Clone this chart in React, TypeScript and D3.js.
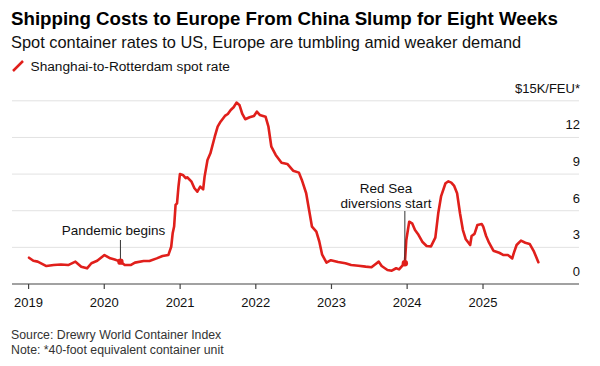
// App.tsx

import React, { useEffect, useRef } from "react";
import * as d3 from "d3";

// weekly Drewry WCI readings, Shanghai-Rotterdam, thousand $ per FEU
const dates = [
  "2019-01-03", "2019-01-24", "2019-02-14", "2019-03-28", "2019-05-02", "2019-06-06",
  "2019-07-11", "2019-08-15", "2019-09-12", "2019-10-10", "2019-10-31", "2019-11-28",
  "2020-01-02", "2020-01-30", "2020-02-20", "2020-03-19", "2020-04-09", "2020-05-07",
  "2020-05-28", "2020-07-09", "2020-08-06", "2020-09-10", "2020-10-08", "2020-11-05",
  "2020-11-19", "2020-11-26", "2020-12-03", "2020-12-10", "2020-12-17", "2020-12-24",
  "2020-12-31", "2021-01-14", "2021-01-28", "2021-02-04", "2021-02-25", "2021-03-11",
  "2021-03-25", "2021-04-08", "2021-04-22", "2021-04-29", "2021-05-13", "2021-05-27",
  "2021-06-17", "2021-07-01", "2021-07-15", "2021-08-05", "2021-08-19", "2021-09-02",
  "2021-09-16", "2021-09-30", "2021-10-14", "2021-10-28", "2021-11-11", "2021-12-02",
  "2021-12-23", "2022-01-06", "2022-01-20", "2022-02-17", "2022-03-03", "2022-03-17",
  "2022-04-07", "2022-05-05", "2022-06-02", "2022-06-30", "2022-07-28", "2022-08-11",
  "2022-09-01", "2022-09-15", "2022-09-29", "2022-10-20", "2022-11-03", "2022-11-17",
  "2022-12-08", "2022-12-29", "2023-02-02", "2023-03-09", "2023-04-06", "2023-05-11",
  "2023-06-15", "2023-07-13", "2023-07-27", "2023-08-17", "2023-08-31", "2023-09-28",
  "2023-10-19", "2023-11-09", "2023-11-23", "2023-12-07", "2023-12-21", "2023-12-28",
  "2024-01-11", "2024-01-25", "2024-02-08", "2024-02-22", "2024-03-14", "2024-04-04",
  "2024-04-25", "2024-05-16", "2024-05-30", "2024-06-13", "2024-07-04", "2024-07-18",
  "2024-08-01", "2024-08-15", "2024-08-29", "2024-09-12", "2024-09-26", "2024-10-10",
  "2024-10-31", "2024-11-07", "2024-11-21", "2024-12-05", "2024-12-26", "2025-01-02",
  "2025-01-16", "2025-01-30", "2025-02-20", "2025-03-20", "2025-04-10", "2025-05-01",
  "2025-05-22", "2025-05-29", "2025-06-12", "2025-07-03", "2025-07-24", "2025-08-14",
  "2025-09-04", "2025-09-25",
];

const rates = [
  2.15, 1.9, 1.83, 1.47, 1.55, 1.6,
  1.55, 1.83, 1.42, 1.28, 1.7, 1.9,
  2.37, 2.1, 2.0, 1.83, 1.55, 1.55,
  1.75, 1.88, 1.88, 2.1, 2.29, 2.37,
  3.05, 4.15, 4.7, 6.47, 6.6, 7.97,
  9.0, 8.93, 8.66, 8.74, 8.38, 7.84,
  7.56, 7.97, 7.75, 8.79, 10.16, 10.7,
  12.06, 12.88, 13.29, 13.76, 13.92, 14.25,
  14.47, 14.85, 14.66, 13.92, 13.49, 13.65,
  13.76, 14.11, 13.84, 13.7, 12.88, 11.24,
  10.57, 9.93, 9.83, 9.28, 9.12, 8.52,
  7.43, 6.06, 4.69, 4.28, 3.5, 2.4,
  1.75, 1.95, 1.8, 1.7, 1.56, 1.5,
  1.42, 1.37, 1.56, 1.83, 1.47, 1.15,
  1.09, 1.29, 1.2, 1.47, 1.7, 3.6,
  5.1, 4.97, 4.42, 4.1, 3.46, 3.11,
  3.08, 3.8, 5.79, 7.2, 8.25, 8.4,
  8.3, 8.03, 7.43, 5.79, 4.42, 3.66,
  3.19, 3.93, 4.1, 4.83, 4.91, 4.69,
  3.93, 3.38, 2.73, 2.56, 2.37, 2.37,
  2.1, 2.51, 3.19, 3.55, 3.38, 3.28,
  2.65, 1.78,
];

const yTicks = [0, 3, 6, 9, 12, 15];
const yearTicks = [2019, 2020, 2021, 2022, 2023, 2024, 2025];

const noteDates = ["2020-03-19", "2023-12-21"];
const noteLines = [["Pandemic begins"], ["Red Sea", "diversions start"]];

const RED = "#e01f1b";
const FONT = "'Liberation Sans', Arial, Helvetica, sans-serif";

const App: React.FC = () => {
  const ref = useRef<SVGSVGElement>(null);

  useEffect(() => {
    const svg = d3.select(ref.current);
    svg.selectAll("*").remove();

    const width = 600;
    const height = 366;
    const parse = d3.timeParse("%Y-%m-%d");
    const data = dates.map((d, i) => ({ date: parse(d) as Date, value: rates[i] }));

    const x = d3
      .scaleTime()
      .domain([new Date(2018, 9, 13), new Date(2026, 3, 9)])
      .range([12, 579]);
    const y = d3.scaleLinear().domain([0, 15]).range([284, 100.8]);

    svg.attr("width", width).attr("height", height).style("font-family", FONT);

    // header
    svg
      .append("text")
      .attr("x", 11)
      .attr("y", 25)
      .attr("font-size", 18.7)
      .attr("font-weight", "bold")
      .attr("fill", "#000")
      .text("Shipping Costs to Europe From China Slump for Eight Weeks");

    svg
      .append("text")
      .attr("x", 11)
      .attr("y", 47.5)
      .attr("font-size", 16.4)
      .attr("fill", "#111")
      .text("Spot container rates to US, Europe are tumbling amid weaker demand");

    svg
      .append("line")
      .attr("x1", 13)
      .attr("y1", 71)
      .attr("x2", 23)
      .attr("y2", 61)
      .attr("stroke", RED)
      .attr("stroke-width", 2.5);

    svg
      .append("text")
      .attr("x", 30.5)
      .attr("y", 71)
      .attr("font-size", 13.7)
      .attr("fill", "#111")
      .text("Shanghai-to-Rotterdam spot rate");

    // gridlines + right labels
    const grid = svg.append("g");
    grid
      .selectAll("line")
      .data(yTicks.filter((t) => t > 0))
      .enter()
      .append("line")
      .attr("x1", 12)
      .attr("x2", 579)
      .attr("y1", (d) => y(d))
      .attr("y2", (d) => y(d))
      .attr("stroke", "#e2e2e2")
      .attr("stroke-width", 1);

    grid
      .selectAll("text")
      .data(yTicks)
      .enter()
      .append("text")
      .attr("x", 580)
      .attr("y", (d) => y(d) - 8)
      .attr("text-anchor", "end")
      .attr("font-size", 13)
      .attr("fill", "#111")
      .text((d) => (d === 15 ? "$15K/FEU*" : String(d)));

    // x axis
    const xAxis = svg.append("g");
    xAxis
      .append("line")
      .attr("x1", 12)
      .attr("x2", 579)
      .attr("y1", y(0))
      .attr("y2", y(0))
      .attr("stroke", "#444")
      .attr("stroke-width", 1.2);

    const yearDates = yearTicks.map((yr) => new Date(yr, 0, 1));
    xAxis
      .selectAll(".tick")
      .data(yearDates)
      .enter()
      .append("line")
      .attr("class", "tick")
      .attr("x1", (d) => x(d))
      .attr("x2", (d) => x(d))
      .attr("y1", y(0))
      .attr("y2", y(0) + 5)
      .attr("stroke", "#444")
      .attr("stroke-width", 1.2);

    xAxis
      .selectAll("text")
      .data(yearDates)
      .enter()
      .append("text")
      .attr("x", (d) => x(d))
      .attr("y", 307)
      .attr("text-anchor", "middle")
      .attr("font-size", 13)
      .attr("fill", "#111")
      .text((d) => d3.timeFormat("%Y")(d));

    // line
    const line = d3
      .line<{ date: Date; value: number }>()
      .x((d) => x(d.date))
      .y((d) => y(d.value))
      .curve(d3.curveLinear);

    svg
      .append("path")
      .datum(data)
      .attr("fill", "none")
      .attr("stroke", RED)
      .attr("stroke-width", 2.6)
      .attr("stroke-linejoin", "round")
      .attr("stroke-linecap", "round")
      .attr("d", line);

    // annotations
    const topY = [240, 211];
    const baseY = [235, 193];
    const textX = [113.5, 386];
    noteDates.forEach((nd, i) => {
      const pt = data.find((d) => d3.timeFormat("%Y-%m-%d")(d.date) === nd)!;
      const px = x(pt.date);
      const py = y(pt.value);
      svg
        .append("line")
        .attr("x1", px)
        .attr("x2", px)
        .attr("y1", topY[i])
        .attr("y2", py)
        .attr("stroke", "#333")
        .attr("stroke-width", 1);
      svg
        .append("circle")
        .attr("cx", px)
        .attr("cy", py)
        .attr("r", 3.2)
        .attr("fill", RED);
      noteLines[i].forEach((txt, j) => {
        svg
          .append("text")
          .attr("x", textX[i])
          .attr("y", baseY[i] + j * 14.5)
          .attr("text-anchor", "middle")
          .attr("font-size", 13.5)
          .attr("fill", "#111")
          .text(txt);
      });
    });

    // footer
    svg
      .append("text")
      .attr("x", 11)
      .attr("y", 339)
      .attr("font-size", 12.3)
      .attr("fill", "#333")
      .text("Source: Drewry World Container Index");
    svg
      .append("text")
      .attr("x", 11)
      .attr("y", 354)
      .attr("font-size", 12.3)
      .attr("fill", "#333")
      .text("Note: *40-foot equivalent container unit");
  }, []);

  return (
    <div style={{ position: "absolute", left: 0, top: 0, background: "#fff" }}>
      <svg ref={ref}></svg>
    </div>
  );
};

export default App;
